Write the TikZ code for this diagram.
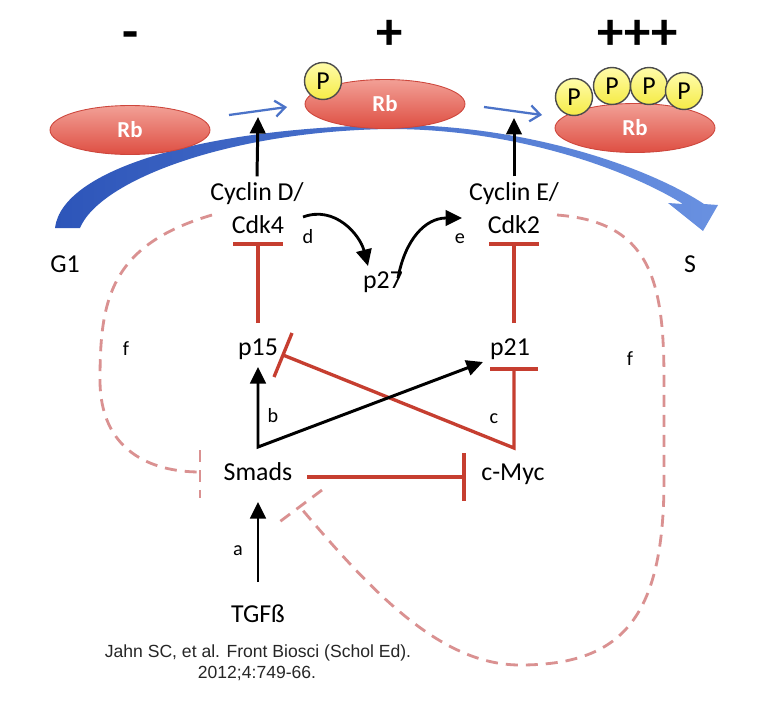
\documentclass[tikz,border=0pt]{standalone}
\usepackage{fontspec}
\setmainfont{Carlito}
\newfontfamily\citefont{Liberation Sans}
\usetikzlibrary{arrows.meta,shapes.geometric}
\begin{document}
\begin{tikzpicture}[x=0.02cm, y=-0.02cm,
    lbl/.style={font=\fontsize{14.7}{17}\selectfont, inner sep=0pt, anchor=base},
    letterlbl/.style={font=\fontsize{11.5}{13}\selectfont, inner sep=0pt, anchor=base},
    signlbl/.style={font=\fontsize{30}{32}\selectfont\bfseries, inner sep=0pt, anchor=base},
    citelbl/.style={font=\citefont\fontsize{10}{12}\selectfont, text=black!85, inner sep=0pt, anchor=base},
    rbnode/.style={ellipse, minimum width=3.2cm, minimum height=0.98cm, inner sep=0pt, top color=rblight, bottom color=rbred, draw=rbedge, line width=0.5pt, text=white, font=\fontsize{13}{15}\selectfont\bfseries},
    pnode/.style={circle, minimum size=0.74cm, inner sep=0pt, top color=plight, bottom color=pyellow, draw=black!70, line width=0.8pt, font=\fontsize{14.7}{16}\selectfont},
    act/.style={line width=1.7pt, -{Triangle[length=0.33cm, width=0.31cm]}},
    inh/.style={draw=inhred, line width=1.9pt},
    fline/.style={fpink, line width=1.6pt, dash pattern=on 0.24cm off 0.16cm},
    phos/.style={bluearr, line width=1.3pt, -{Straight Barb[length=0.2cm, width=0.32cm]}}]
\definecolor{rbred}{RGB}{222,78,66}
\definecolor{rblight}{RGB}{242,160,150}
\definecolor{rbedge}{RGB}{205,70,60}
\definecolor{pyellow}{RGB}{245,235,70}
\definecolor{plight}{RGB}{255,252,170}
\definecolor{inhred}{RGB}{198,62,48}
\definecolor{fpink}{RGB}{218,145,145}
\definecolor{bluearr}{RGB}{75,115,200}
\definecolor{arcdark}{RGB}{45,85,185}
\definecolor{arclight}{RGB}{105,145,225}
\useasboundingbox (0,0) rectangle (774,720);
\fill[white] (0,0) rectangle (774,720);
\shade[left color=arcdark, right color=arclight] (55,228) .. controls (62,170) and (200,128) .. (390,125) .. controls (520,124) and (645,165) .. (704,204) -- (718,205) -- (703,231) -- (668,203) -- (683,204) .. controls (632,172) and (520,129) .. (390,129) .. controls (230,131) and (100,180) .. (80,228) -- cycle;
\node[rbnode] (rb1) at (130,130) {Rb};
\node[rbnode] (rb2) at (385,104) {Rb};
\node[rbnode] (rb3) at (635,128) {Rb};
\node[pnode] (pa) at (323,81) {P};
\node[pnode] (pb) at (574,97) {P};
\node[pnode] (pc) at (612,86) {P};
\node[pnode] (pd) at (649,86) {P};
\node[pnode] (pe) at (684,91) {P};
\node[signlbl] (minus) at (131,50) {-};
\node[signlbl] (plusone) at (390,50) {+};
\node[signlbl] (plusthree) at (638,50) {+++};
\node[lbl] (cycd) at (257,200) {Cyclin D/};
\node[lbl] (cdk4) at (258,233) {Cdk4};
\node[lbl] (cyce) at (514,200) {Cyclin E/};
\node[lbl] (cdk2) at (514,233) {Cdk2};
\node[lbl] (p27) at (383,288) {p27};
\node[lbl] (p15) at (258,355) {p15};
\node[lbl] (p21) at (510,355) {p21};
\node[lbl] (smads) at (258,480) {Smads};
\node[lbl] (cmyc) at (513,480) {c-Myc};
\node[lbl] (tgfb) at (258,622) {TGFß};
\node[lbl] (g1) at (65,272) {G1};
\node[lbl] (sphase) at (690,272) {S};
\node[letterlbl] (la) at (238,555) {a};
\node[letterlbl] (lb) at (273,422) {b};
\node[letterlbl] (lc) at (494,423) {c};
\node[letterlbl] (ld) at (308,243) {d};
\node[letterlbl] (le) at (460,243) {e};
\node[letterlbl] (lfleft) at (126,355) {f};
\node[letterlbl] (lfright) at (630,365) {f};
\node[citelbl] (citeone) at (258,657) {Jahn SC, et al. Front Biosci (Schol Ed).};
\node[citelbl] (citetwo) at (257,678) {2012;4:749-66.};
\coordinate (phoneA) at (229,115);
\coordinate (phoneB) at (287,107);
\coordinate (phtwoA) at (484,107);
\coordinate (phtwoB) at (542,115);
\draw[phos] (phoneA) -- (phoneB);
\draw[phos] (phtwoA) -- (phtwoB);
\coordinate (rbstepone) at (258,117);
\coordinate (rbsteptwo) at (514,118);
\draw[act] ([yshift=3pt]cycd.north) -- (rbstepone);
\draw[act] ([yshift=3pt]cyce.north) -- (rbsteptwo);
\coordinate (dstart) at (303,217);
\coordinate (dend) at (368,266);
\coordinate (estart) at (398,278);
\coordinate (eend) at (462,218);
\draw[act, line width=1.6pt] (dstart) .. controls (335,205) and (360,235) .. (dend);
\draw[act, line width=1.6pt] (estart) .. controls (405,240) and (425,218) .. (eend);
\coordinate (cdkfourbar) at (258,244);
\coordinate (pfifteentop) at (258,323);
\coordinate (cdktwobar) at (514,244);
\coordinate (ptwentyonetop) at (514,323);
\draw[inh] (pfifteentop) -- (cdkfourbar);
\draw[inh] ([xshift=-0.5cm]cdkfourbar) -- ([xshift=0.5cm]cdkfourbar);
\draw[inh] (ptwentyonetop) -- (cdktwobar);
\draw[inh] ([xshift=-0.5cm]cdktwobar) -- ([xshift=0.5cm]cdktwobar);
\coordinate (ptwentyonebar) at (514,369);
\coordinate (mycknee) at (514,448);
\coordinate (pfifteenbar) at (283,355);
\coordinate (pfifteenbarA) at (292,333);
\coordinate (pfifteenbarB) at (274,377);
\draw[inh] (ptwentyonebar) -- (mycknee) -- (pfifteenbar);
\draw[inh] ([xshift=-0.48cm]ptwentyonebar) -- ([xshift=0.48cm]ptwentyonebar);
\draw[inh] (pfifteenbarA) -- (pfifteenbarB);
\coordinate (smadsright) at (307,477);
\coordinate (mycbar) at (464,477);
\draw[inh] (smadsright) -- (mycbar);
\draw[inh] ([yshift=0.48cm]mycbar) -- ([yshift=-0.48cm]mycbar);
\coordinate (tgfbtop) at (258,582);
\coordinate (smadsbottom) at (258,502);
\draw[act] (tgfbtop) -- (smadsbottom);
\coordinate (pfifteenbottom) at (258,367);
\coordinate (smadsknee) at (258,447);
\coordinate (ptwentyoneleft) at (483,362);
\draw[act, {Triangle[length=0.33cm, width=0.31cm]}-{Triangle[length=0.33cm, width=0.31cm]}] (pfifteenbottom) -- (smadsknee) -- (ptwentyoneleft);
\coordinate (fleftstart) at (212,215);
\coordinate (fleftend) at (200,472);
\coordinate (fleftbarA) at (200,450);
\coordinate (fleftbarB) at (200,498);
\draw[fline] (fleftstart) .. controls (110,245) and (100,300) .. (100,380) .. controls (100,450) and (150,472) .. (fleftend);
\draw[fline] (fleftbarA) -- (fleftbarB);
\coordinate (frightstart) at (557,215);
\coordinate (frightend) at (300,507);
\coordinate (frightbarA) at (322,490);
\coordinate (frightbarB) at (278,523);
\draw[fline] (frightstart) .. controls (650,222) and (664,280) .. (664,380) -- (664,480) .. controls (664,620) and (620,665) .. (520,665) .. controls (440,665) and (370,590) .. (frightend);
\draw[fline] (frightbarA) -- (frightbarB);
\end{tikzpicture}
\end{document}
